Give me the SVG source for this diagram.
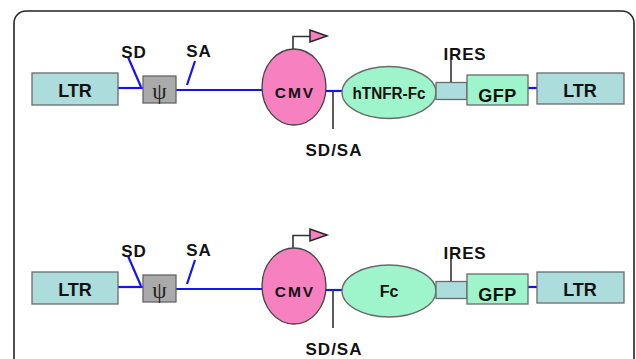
<svg xmlns="http://www.w3.org/2000/svg" width="636" height="359" viewBox="0 0 636 359">
<style>
text{font-family:"Liberation Sans",Arial,sans-serif;font-weight:bold;fill:#111;text-anchor:middle}
.teal{fill:#acdcdc;stroke:#6a6a6a;stroke-width:1.3}
.mint{fill:#9ff5cb;stroke:#6a6a6a;stroke-width:1.3}
.pink{fill:#f780c0;stroke:#444;stroke-width:1.3}
.gray{fill:#aaaaaa;stroke:#666;stroke-width:1.3}
.blue{stroke:#1414f5;stroke-width:2.2;fill:none}
.tick{stroke:#333;stroke-width:1.6;fill:none}
.arrow{fill:#f780c0;stroke:#222;stroke-width:1.5}
.lbl{font-size:17px;letter-spacing:1px}
.box{font-size:18px}
.cmv{font-size:15.5px;letter-spacing:2px}
.gfp{font-size:18px;letter-spacing:0.5px}
.ires{font-size:17px;letter-spacing:0.8px}
.psi{font-family:"Liberation Serif","DejaVu Serif",serif;font-weight:normal;font-size:23px;fill:#222}
</style>
<rect id="frame" x="14" y="11" width="620" height="420" rx="12" fill="none" stroke="#222" stroke-width="1.6"/>

<g id="connectors">
<line class="blue" x1="118" y1="88" x2="143" y2="88"/>
<line class="blue" x1="128" y1="57" x2="141" y2="87"/>
<line class="blue" x1="195" y1="61" x2="187" y2="85"/>
<line class="blue" x1="176" y1="90" x2="263" y2="90"/>
<line class="blue" x1="325" y1="91" x2="343" y2="91"/>
<line class="tick" x1="333" y1="91" x2="333" y2="129"/>
<line class="tick" x1="451" y1="60" x2="451" y2="83"/>
<line class="blue" x1="528" y1="88" x2="537" y2="88"/>
<path class="tick" d="M293,49 V36.5 H310"/>

<line class="blue" x1="118" y1="287" x2="143" y2="287"/>
<line class="blue" x1="128" y1="256" x2="141" y2="286"/>
<line class="blue" x1="195" y1="260" x2="187" y2="284"/>
<line class="blue" x1="176" y1="289" x2="263" y2="289"/>
<line class="blue" x1="325" y1="290" x2="343" y2="290"/>
<line class="tick" x1="333" y1="290" x2="333" y2="328"/>
<line class="tick" x1="451" y1="259" x2="451" y2="282"/>
<line class="blue" x1="528" y1="287" x2="537" y2="287"/>
<path class="tick" d="M293,248 V235.5 H310"/>
</g>

<g id="ltr-left-1"><rect class="teal" x="32" y="73" width="86" height="32"/><text class="box" x="75" y="96.5">LTR</text></g>
<g id="psi-1"><rect class="gray" x="143" y="76" width="33" height="27"/><text class="psi" x="159.5" y="99">ψ</text></g>
<g id="sd-1"><text class="lbl" x="134" y="58">SD</text></g>
<g id="sa-1"><text class="lbl" x="199" y="57">SA</text></g>
<g id="cmv-1"><ellipse class="pink" cx="294" cy="87" rx="32" ry="38"/><text class="cmv" x="295" y="98">CMV</text><polygon class="arrow" points="310,30 310,42 327,36"/></g>
<g id="sdsa-1"><text class="lbl" x="334" y="156">SD/SA</text></g>
<g id="htnfr-fc"><ellipse class="mint" cx="389" cy="92.5" rx="47" ry="26"/><text x="389" y="98.5" style="font-size:16px" textLength="73" lengthAdjust="spacingAndGlyphs">hTNFR-Fc</text></g>
<g id="ires-1"><rect class="teal" x="436" y="82.5" width="31" height="17"/><text class="ires" x="465" y="60">IRES</text></g>
<g id="gfp-1"><rect class="mint" x="467" y="75" width="61" height="30"/><text class="gfp" x="497.5" y="102">GFP</text></g>
<g id="ltr-right-1"><rect class="teal" x="537" y="73" width="87" height="31"/><text class="box" x="580" y="96.5">LTR</text></g>

<g id="ltr-left-2"><rect class="teal" x="32" y="272" width="86" height="32"/><text class="box" x="75" y="295.5">LTR</text></g>
<g id="psi-2"><rect class="gray" x="143" y="275" width="33" height="27"/><text class="psi" x="159.5" y="298">ψ</text></g>
<g id="sd-2"><text class="lbl" x="134" y="257">SD</text></g>
<g id="sa-2"><text class="lbl" x="199" y="256">SA</text></g>
<g id="cmv-2"><ellipse class="pink" cx="294" cy="286" rx="32" ry="38"/><text class="cmv" x="295" y="297">CMV</text><polygon class="arrow" points="310,229 310,241 327,235"/></g>
<g id="sdsa-2"><text class="lbl" x="334" y="355">SD/SA</text></g>
<g id="fc"><ellipse class="mint" cx="389" cy="291" rx="47" ry="26"/><text x="389" y="297" style="font-size:16px">Fc</text></g>
<g id="ires-2"><rect class="teal" x="436" y="281.5" width="31" height="17"/><text class="ires" x="465" y="259">IRES</text></g>
<g id="gfp-2"><rect class="mint" x="467" y="274" width="61" height="30"/><text class="gfp" x="497.5" y="301">GFP</text></g>
<g id="ltr-right-2"><rect class="teal" x="537" y="272" width="87" height="31"/><text class="box" x="580" y="295.5">LTR</text></g>
</svg>
